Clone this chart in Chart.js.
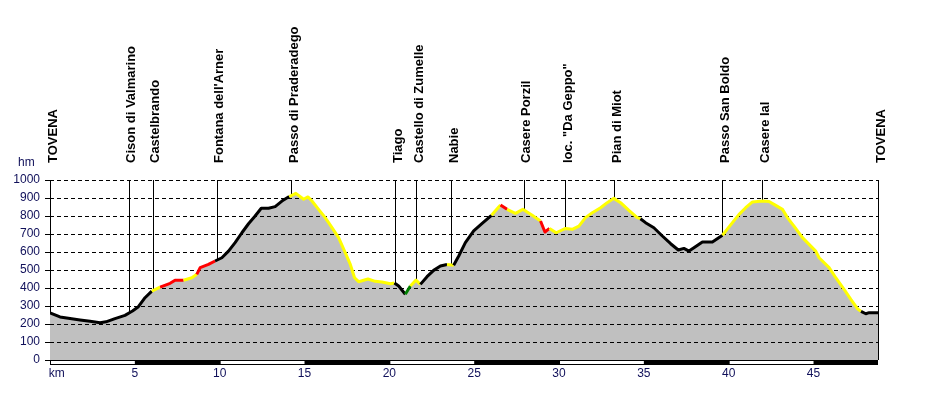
<!DOCTYPE html>
<html>
<head>
<meta charset="utf-8">
<script src="https://cdn.jsdelivr.net/npm/chart.js@4.4.1/dist/chart.umd.min.js"></script>
<style>
  html, body { margin: 0; padding: 0; background: #ffffff; }
  #wrap { width: 927px; height: 400px; }
</style>
</head>
<body>
<div id="wrap"><canvas id="c" width="927" height="400"></canvas></div>
<script>
// ---- data ----
const kms = [0, 0.59, 1.18, 1.77, 2.36, 2.95, 3.3, 3.83, 4.42, 4.86, 5.21, 5.6, 6.0, 6.49, 7.08, 7.37, 7.87, 8.36, 8.65, 8.85,
  9.34, 9.73, 10.13, 10.52, 10.91, 11.31, 11.7, 12.09, 12.45, 12.88, 13.27, 13.67, 14.1, 14.49, 14.95, 15.2, 15.44, 15.83, 16.22, 16.62,
  17.01, 17.4, 17.7, 17.95, 18.19, 18.74, 19.17, 19.57, 20.06, 20.3, 20.55, 20.94, 21.24, 21.57, 21.83, 22.22, 22.61, 23.01, 23.4, 23.79,
  24.09, 24.48, 24.97, 25.47, 26.02, 26.55, 26.94, 27.43, 27.87, 28.42, 28.91, 29.17, 29.44, 29.83, 30.38, 30.78, 31.17, 31.56, 31.96, 32.45,
  32.84, 33.23, 33.63, 34.12, 34.61, 34.8, 35.1, 35.59, 36.09, 36.58, 37.03, 37.36, 37.66, 37.95, 38.45, 39.04, 39.63, 40.22, 40.61, 41.0,
  41.4, 41.99, 42.38, 42.77, 43.17, 43.46, 43.85, 44.35, 45.13, 45.33, 45.92, 46.31, 46.8, 47.2, 47.59, 47.8, 48.08, 48.28, 48.8];
const elevation = [262, 239, 230, 222, 215, 207, 212, 230, 248, 272, 296, 346, 383, 405, 426, 443, 443, 457, 476, 513,
  531, 550, 568, 605, 652, 707, 757, 800, 843, 843, 852, 883, 908, 926, 893, 906, 883, 837, 791, 735,
  680, 596, 531, 457, 435, 450, 437, 433, 424, 428, 411, 365, 411, 444, 420, 463, 498, 522, 531, 526,
  578, 652, 717, 759, 804, 861, 837, 815, 837, 804, 772, 711, 731, 707, 731, 726, 744, 791, 818, 846,
  874, 898, 874, 831, 791, 785, 763, 735, 689, 646, 611, 620, 605, 624, 656, 656, 693, 763, 809, 846,
  878, 883, 881, 859, 837, 791, 744, 680, 605, 568, 513, 457, 393, 337, 285, 270, 257, 263, 263];
// surface class of the stretch starting at each point: b, y, r, g
const surface = ['b','b','b','b','b','b','b','b','b','b','b','b','y','r','r','r','y','y','r','r',
  'r','b','b','b','b','b','b','b','b','b','b','b','y','y','y','y','y','y','y','y',
  'y','y','y','y','y','y','y','y','y','b','b','g','y','y','b','b','b','b','y','b',
  'b','b','b','b','y','r','y','y','y','y','r','r','y','y','y','y','y','y','y','y',
  'y','y','y','y','y','b','b','b','b','b','b','b','b','b','b','b','y','y','y','y',
  'y','y','y','y','y','y','y','y','y','y','y','y','y','y','y','b','b','b','b'];
const placeNames = ['TOVENA', 'Cison di Valmarino', 'Castelbrando', "Fontana dell'Arner", 'Passo di Praderadego',
  'Tiago', 'Castello di Zumelle', 'Nabie', 'Casere Porzil', 'loc. "Da Geppo"', 'Pian di Miot',
  'Passo San Boldo', 'Casere Ial', 'TOVENA'];
const placeKm = [0, 4.64, 6.06, 9.83, 14.2, 20.35, 21.6, 23.64, 27.93, 30.36, 33.25, 39.62, 41.98, 48.8];
const yTicks = [0, 100, 200, 300, 400, 500, 600, 700, 800, 900, 1000];
const xTicks = [0, 5, 10, 15, 20, 25, 30, 35, 40, 45];
const xUnitLabel = 'km';
const yUnitLabel = 'hm';
const totalKm = 48.8;

// ---- styles ----
const surfaceColor = { b: '#000000', y: '#ffff00', r: '#ff0000', g: '#008000' };
const FONT = 'Arial, "Liberation Sans", sans-serif';
const TICK_COLOR = '#10105a';

const points = kms.map((k, i) => ({ x: k, y: elevation[i] }));

const profilePlugin = {
  id: 'profileDecor',
  beforeDatasetsDraw(chart) {
    const ctx = chart.ctx, xs = chart.scales.x, ca = chart.chartArea;
    ctx.save();
    ctx.strokeStyle = '#000';
    ctx.lineWidth = 1;
    placeKm.forEach(k => {
      const x = Math.round(xs.getPixelForValue(k)) + 0.5;
      ctx.beginPath();
      ctx.moveTo(x, ca.top);
      ctx.lineTo(x, ca.bottom);
      ctx.stroke();
    });
    ctx.restore();
  },
  afterDatasetDraw(chart, args) {
    if (args.index !== 0) return;
    const ctx = chart.ctx, ys = chart.scales.y, ca = chart.chartArea;
    ctx.save();
    ctx.strokeStyle = '#000';
    ctx.lineWidth = 1;
    ctx.setLineDash([4, 3]);
    yTicks.forEach(v => {
      if (v === 0) return;
      const y = Math.round(ys.getPixelForValue(v)) + 0.5;
      ctx.beginPath();
      ctx.moveTo(ca.left, y);
      ctx.lineTo(ca.right, y);
      ctx.stroke();
    });
    ctx.restore();
  },
  afterDraw(chart) {
    const ctx = chart.ctx, xs = chart.scales.x, ca = chart.chartArea;
    ctx.save();
    // place labels
    ctx.fillStyle = '#000';
    ctx.font = 'bold 13px ' + FONT;
    ctx.textAlign = 'left';
    ctx.textBaseline = 'middle';
    placeKm.forEach((k, i) => {
      const x = xs.getPixelForValue(k) + 3;
      ctx.save();
      ctx.translate(x, ca.top - 17);
      ctx.rotate(-Math.PI / 2);
      ctx.fillText(placeNames[i], 0, 0);
      ctx.restore();
    });
    // unit label
    ctx.fillStyle = TICK_COLOR;
    ctx.font = '12px ' + FONT;
    ctx.textAlign = 'left';
    ctx.textBaseline = 'alphabetic';
    ctx.fillText(yUnitLabel, 18, ca.top - 14);
    // distance bar
    const y0 = ca.bottom;
    ctx.fillStyle = '#000';
    ctx.fillRect(ca.left, y0, ca.right - ca.left, 5);
    ctx.fillStyle = '#fff';
    for (let k = 0; k < totalKm; k += 10) {
      const xa = xs.getPixelForValue(k) + 1;
      const xb = xs.getPixelForValue(Math.min(k + 5, totalKm));
      ctx.fillRect(xa, y0 + 1, xb - xa, 3);
    }
    ctx.restore();
  }
};

new Chart(document.getElementById('c'), {
  type: 'line',
  data: {
    datasets: [
      {
        data: points,
        fill: 'origin',
        backgroundColor: '#c0c0c0',
        borderWidth: 0,
        pointRadius: 0,
        order: 2
      },
      {
        data: points,
        fill: false,
        borderWidth: 3,
        borderColor: '#000',
        borderJoinStyle: 'round',
        pointRadius: 0,
        order: 1,
        segment: {
          borderColor: c => surfaceColor[surface[c.p0DataIndex]]
        }
      }
    ]
  },
  options: {
    responsive: false,
    animation: false,
    devicePixelRatio: 1,
    layout: { padding: { top: 180, right: 49, left: 0, bottom: 0 } },
    plugins: { legend: { display: false }, tooltip: { enabled: false } },
    scales: {
      x: {
        type: 'linear',
        min: 0,
        max: totalKm,
        afterFit: s => { s.height = 40; },
        afterBuildTicks: s => { s.ticks = xTicks.map(v => ({ value: v })); },
        grid: { display: false, drawTicks: false },
        border: { display: false },
        ticks: {
          padding: 6,
          maxRotation: 0,
          autoSkip: false,
          color: TICK_COLOR,
          font: { size: 12, family: FONT },
          callback: v => (v === 0 ? '    ' + xUnitLabel : String(v))
        }
      },
      y: {
        min: 0,
        max: 1000,
        afterFit: s => { s.width = 50; },
        afterBuildTicks: s => { s.ticks = yTicks.map(v => ({ value: v })); },
        grid: { display: true, drawOnChartArea: false, drawTicks: true, tickLength: 5, color: '#000' },
        border: { display: true, color: '#000', width: 1 },
        ticks: {
          padding: 5,
          color: TICK_COLOR,
          font: { size: 12, family: FONT },
          callback: v => String(v)
        }
      }
    }
  },
  plugins: [profilePlugin]
});
</script>
</body>
</html>
